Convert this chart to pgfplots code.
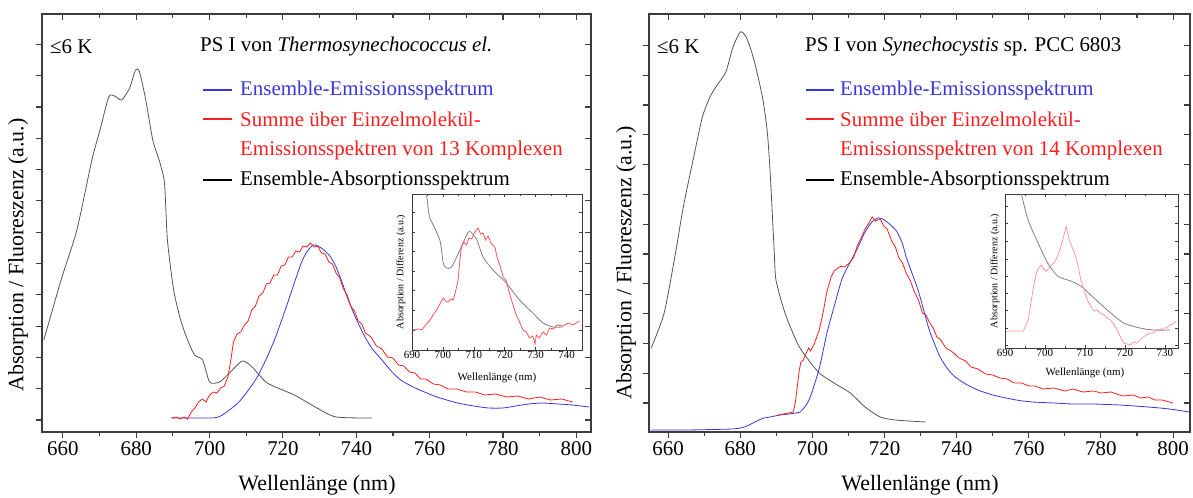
\documentclass[border=0pt]{standalone}
\usepackage{fontspec}
\setmainfont{Liberation Serif}
\usepackage{pgfplots}
\pgfplotsset{compat=1.18}
\definecolor{cblue}{RGB}{55,55,225}
\definecolor{cred}{RGB}{250,30,30}
\definecolor{cgray}{RGB}{85,85,85}
\definecolor{caxis}{RGB}{60,60,60}
\pgfplotsset{
  mainax/.style={anchor=south west, scale only axis, axis line style={caxis,line width=1.1bp},
    xtick={660,680,...,800}, minor xtick={670,690,...,790},
    major tick length=6bp, minor tick length=4bp,
    every tick/.style={caxis,line width=1.1bp},
    tick align=outside, xtick pos=bottom, ytick pos=left,
    yticklabels={}, ymin=0, ymax=418, xmin=654.3, xmax=804,
    ticklabel style={font=\fontsize{21}{24}\selectfont},
    /pgf/number format/assume math mode=true,
    /pgf/number format/1000 sep={},
    clip=true},
  mainover/.style={anchor=south west, scale only axis, axis line style={caxis,line width=1.1bp},
    xtick={660,680,...,800}, minor xtick={670,690,...,790},
    major tick length=6bp, minor tick length=4bp,
    every tick/.style={caxis,line width=1.1bp},
    tick align=inside, xtick pos=top, ytick pos=right,
    xticklabels={}, yticklabels={}, ymin=0, ymax=418, xmin=654.3, xmax=804},
  insetax/.style={anchor=south west, scale only axis, axis line style={caxis,line width=0.7bp},
    axis background/.style={fill=white},
    major tick length=3bp, minor tick length=2bp,
    every tick/.style={caxis,line width=0.6bp},
    tick align=inside, yticklabels={},
    ticklabel style={font=\fontsize{11}{12}\selectfont, inner sep=1bp},
    /pgf/number format/assume math mode=true,
    /pgf/number format/1000 sep={}},
  absline/.style={cgray, line width=0.8bp, smooth, tension=0.4},
  redline/.style={cred, line width=0.8bp, sharp plot},
  blueline/.style={cblue, line width=0.8bp, smooth, tension=0.4}
}
\begin{document}
\begin{tikzpicture}
\useasboundingbox (0,0) rectangle (1193bp,498bp);
%================ LEFT PANEL =================
\begin{axis}[mainax, at={(42bp,66bp)}, width=549bp, height=418bp,
  ytick={12,43.3,74.6,105.9,137.2,168.5,199.8,231.1,262.4,293.7,325,356.3,387.6}]
\addplot[absline] coordinates {
(654.8,92) (659.5,152) (663.8,202) (667.9,272) (670.1,302) (672.5,335) (674.1,336)
(676.0,332) (678.2,344) (679.8,362) (680.9,360) (682.6,332) (684.5,292) (686.4,270)
(687.7,249) (688.5,192) (690.2,142) (692.1,112) (694.0,92) (695.9,77) (698.1,72)
(700.0,50) (702.7,50) (705.4,59) (708.9,71) (711.6,65) (715.7,49) (723.1,37)
(729.3,24) (734.5,15) (744.3,14)};
\addplot[blueline] coordinates {
(689.6,14) (695,14) (701,14) (703,16) (705.4,22) (708,30) (710.6,42) (713,55)
(715.7,75) (718,95) (720.9,125) (723,148) (725,169) (726.5,180) (728.2,187)
(729.5,186) (731.2,182) (733,175) (734.5,165) (736,151) (737.5,135) (739.5,117)
(741.8,99) (744,85) (747,72) (749.5,61) (752.1,52) (755,46) (757.3,42) (762,35)
(767.6,29) (772,26) (776.1,24) (780,24) (783.4,26) (787,28) (790.7,29) (795,28)
(798.9,27) (803.5,25)};
\addplot[redline] coordinates {
(689.6,14) (691,15) (692,13) (693,15) (694,13) (695,20) (696,24) (697,30) (698,33)
(699,30) (700,37) (701,40) (702,39) (703,44) (704,46) (705,55) (705.8,72) (706.5,90)
(707.5,98) (708.5,100) (709.5,107) (710.5,111) (711.5,122) (712.5,126) (713.5,136)
(714.5,139) (715.5,148) (716.5,149) (717.5,157) (718.5,157) (719.5,166) (720.5,167)
(721.5,175) (722.5,175) (723.5,181) (724.5,180) (725.5,186) (726.5,185) (727.5,189)
(728.5,185) (729.5,186) (730.5,179) (731.5,178) (732.5,170) (733.5,168) (734.5,159)
(735.5,154) (736.5,143) (737.5,137) (738.5,126) (739.5,121) (740.5,111) (741.5,108)
(742.5,99) (744,95) (745.5,86) (747,83) (748.5,75) (750,74) (751.5,67) (753,66)
(754.5,60) (756,59) (757.5,53) (759,53) (761,48) (763,47) (765,43) (767.5,43)
(770,40) (772.5,40) (775,37) (778,38) (781,35) (784,36) (787,33) (790,35) (793,32)
(796,33) (799,30)};
\end{axis}
\begin{axis}[mainover, at={(42bp,66bp)}, width=549bp, height=418bp,
  ytick={12,43.3,74.6,105.9,137.2,168.5,199.8,231.1,262.4,293.7,325,356.3,387.6}]
\end{axis}
% left inset
\begin{axis}[insetax, at={(412bp,148bp)}, width=170bp, height=156bp,
  xmin=690, xmax=745, ymin=0, ymax=156,
  xtick={690,700,...,740}, minor xtick={695,705,...,745},
  ytick={20,39.6,59.2,78.8,98.4,118,137.6}]
\addplot[absline, gray] coordinates {
(694.7,156) (695.3,140) (695.8,132) (699.0,110) (700.1,87) (701.2,82) (702.8,83)
(705.5,100) (708.2,118) (709.3,117) (711,110) (713.0,93) (716.2,80) (720.5,67)
(724.8,50) (729.1,37) (732.4,27) (735.6,23) (738.8,23)};
\addplot[redline, cred!75] coordinates {
(690.4,20) (692,21) (693.1,20) (694.5,25) (695.8,30) (697,36) (698.0,40) (699,46)
(700.1,52) (700.9,49) (701.7,48) (702.5,51) (703.3,50) (704.2,60) (704.9,70)
(705.5,90) (706.0,103) (706.8,108) (707.6,105) (708.4,112) (709.3,111) (710.3,118)
(711.4,122) (712.2,116) (713.0,117) (713.8,110) (714.6,114) (715.7,106) (716.8,103)
(717.6,92) (718.4,85) (719.5,73) (720.5,69) (721.6,56) (722.7,45) (723.7,35)
(724.8,28) (725.9,20) (727.0,18) (728,12) (729.1,14) (729.8,6) (730.2,15) (731.2,12)
(732.4,18) (733.5,15) (734.5,22) (735.6,21) (737,25) (738.8,24) (740.5,27) (742,25)
(744.2,29)};
\end{axis}
\node[anchor=center, rotate=90, font=\fontsize{10}{11}\selectfont] at (401bp,226bp) {Absorption / Differenz (a.u.)};
\node[anchor=center, font=\fontsize{11}{12}\selectfont] at (497bp,120bp) {Wellenlänge (nm)};
%================ RIGHT PANEL =================
\begin{axis}[mainax, at={(649bp,66bp)}, width=541bp, height=418bp,
  xmin=654.7, xmax=804.7,
  ytick={29,58.8,88.6,118.4,148.2,178,207.8,237.6,267.4,297.2,327,356.8,386.6}]
\addplot[absline] coordinates {
(655.3,84) (658.9,119) (662.2,182) (664.2,225) (667.5,282) (669.5,315) (671.6,335)
(673.6,347) (676,360) (678,385) (680,400) (681.5,396) (683,382) (684.5,362)
(686.3,332) (687.5,300) (688.3,259) (689.4,182) (689.9,152) (692.4,119) (695.8,89)
(698.3,75) (701.9,59) (706,49) (710.5,39) (714.6,25) (718.8,15) (722.9,12) (731.3,10)};
\addplot[blueline] coordinates {
(655.3,2) (665,2) (677.7,3) (681.1,5) (683,8) (685.2,12) (686.5,14) (688.3,15)
(691,17) (693.5,18) (695.5,19) (696.6,20) (698.5,28) (699.9,40) (702,65) (704.1,100)
(706,125) (708.2,153) (710.5,170) (712.4,183) (714.6,200) (716.5,210) (718.2,214)
(719.5,213) (720.7,210) (722,206) (723.5,200) (725,188) (726,175) (727.5,160)
(729.3,142) (731,120) (732.4,102) (734,87) (735.4,75) (737.5,63) (739.6,55)
(742.5,48) (745.9,42) (750,37) (756.5,32) (761,30) (767,29) (772,28) (777.5,28)
(785,27) (793.1,25) (799,23) (804.5,20)};
\addplot[redline] coordinates {
(690.5,17) (692,18) (693.5,19) (694.7,20) (695.3,30) (695.8,45) (696.3,60) (696.8,70)
(697.5,72) (698.3,79) (699,84) (699.5,81) (700.5,88) (701.9,102) (703,120) (704,140)
(705.2,155) (706,161) (707.1,164) (708,166) (709,165) (710.5,170) (711.5,175)
(712.4,186) (713.5,194) (714.6,203) (715.5,208) (716.6,215) (717.5,211) (718.8,213)
(719.8,206) (720.7,203) (722,191) (723,185) (724,174) (725,169) (726,159) (727.2,151)
(728.2,141) (729.5,131) (730.5,119) (731.5,117) (732.4,110) (733.5,104) (734.5,95)
(735.4,93) (737,84) (738.5,81) (740.7,74) (742.5,71) (744,65) (745.9,63) (748,58)
(750,57) (752,54) (754,53) (756,49) (758,49) (760,46) (761.7,46) (764,43) (767,44)
(770,41) (772.3,43) (775,40) (778,41) (780,39) (782.8,40) (786,36) (789,37) (791,34)
(793.1,35) (795,32) (797,32) (800,29)};
\end{axis}
\begin{axis}[mainover, at={(649bp,66bp)}, width=541bp, height=418bp,
  xmin=654.7, xmax=804.7,
  ytick={29,58.8,88.6,118.4,148.2,178,207.8,237.6,267.4,297.2,327,356.8,386.6}]
\end{axis}
% right inset
\begin{axis}[insetax, at={(1005bp,150bp)}, width=173bp, height=154bp,
  xmin=690, xmax=733.3, ymin=0, ymax=154.3,
  xtick={690,700,...,730}, minor xtick={695,705,...,730},
  ytick={2.6,20,37.3,55,71.6,89.3,106.6,125,141.6}]
\addplot[absline, gray] coordinates {
(694.1,154) (695.8,128) (698.3,105) (700.7,85) (703.2,72) (706.5,67) (709.0,62)
(712.3,50) (715.6,38) (719.7,25) (723.8,20) (727.1,18) (731.3,18)};
\addplot[redline, cred!45] coordinates {
(690.2,17) (692,17) (694.6,17) (695.8,28) (697.0,58) (697.8,75) (698.4,80) (699.1,83)
(699.7,79) (700.3,77) (701,80) (701.6,83) (702.4,86) (703.2,92) (704.0,102) (704.7,112)
(705.3,122) (705.7,115) (706.1,108) (706.9,100) (707.7,92) (708.4,80) (709.0,68)
(709.8,58) (710.6,48) (711.5,42) (712.3,37) (713.1,38) (713.9,35) (714.8,33)
(715.6,30) (716.4,28) (717.2,24) (718.1,18) (718.9,11) (719.7,5) (720.5,4) (721.4,3)
(722.2,6) (723.0,5) (723.8,8) (724.6,11) (725.4,13) (726.3,15) (727.1,15) (727.9,18)
(728.8,18) (729.6,20) (730.4,20) (731.2,23) (732.1,24) (732.9,27)};
\end{axis}
\node[anchor=center, rotate=90, font=\fontsize{10}{11}\selectfont] at (995bp,227bp) {Absorption / Differenz (a.u.)};
\node[anchor=center, font=\fontsize{11}{12}\selectfont] at (1085bp,125bp) {Wellenlänge (nm)};
%================ TEXTS =================
\begin{scope}[every node/.style={font=\fontsize{21}{24}\selectfont, inner sep=0pt}]
% left
\node[anchor=west] at (50bp,451bp) {≤6 K};
\node[anchor=west] at (200bp,451bp) {PS I von \textit{Thermosynechococcus el.}};
\draw[cblue, line width=1.5bp] (203bp,408bp) -- (232bp,408bp);
\node[anchor=west, text=cblue] at (240bp,408bp) {Ensemble-Emissionsspektrum};
\draw[cred, line width=1.5bp] (203bp,379bp) -- (232bp,379bp);
\node[anchor=west, text=cred] at (240bp,379bp) {Summe über Einzelmolekül-};
\node[anchor=west, text=cred] at (240bp,348bp) {Emissionsspektren von 13 Komplexen};
\draw[black, line width=1.5bp] (203bp,318bp) -- (232bp,318bp);
\node[anchor=west] at (240bp,318bp) {Ensemble-Absorptionsspektrum};
% right
\node[anchor=west] at (657bp,451bp) {≤6 K};
\node[anchor=west] at (805bp,451bp) {PS I von \textit{Synechocystis} sp. PCC 6803};
\draw[cblue, line width=1.5bp] (806bp,408bp) -- (834bp,408bp);
\node[anchor=west, text=cblue] at (840bp,408bp) {Ensemble-Emissionsspektrum};
\draw[cred, line width=1.5bp] (806bp,379bp) -- (834bp,379bp);
\node[anchor=west, text=cred] at (840bp,379bp) {Summe über Einzelmolekül-};
\node[anchor=west, text=cred] at (840bp,348bp) {Emissionsspektren von 14 Komplexen};
\draw[black, line width=1.5bp] (806bp,318bp) -- (834bp,318bp);
\node[anchor=west] at (840bp,318bp) {Ensemble-Absorptionsspektrum};
\end{scope}
\begin{scope}[every node/.style={font=\fontsize{22}{25}\selectfont, inner sep=0pt}]
\node[rotate=90] at (18bp,243bp) {Absorption / Fluoreszenz (a.u.)};
\node[rotate=90] at (626bp,235bp) {Absorption / Fluoreszenz (a.u.)};
\node at (317bp,13bp) {Wellenlänge (nm)};
\node at (920bp,13bp) {Wellenlänge (nm)};
\end{scope}
\end{tikzpicture}
\end{document}
